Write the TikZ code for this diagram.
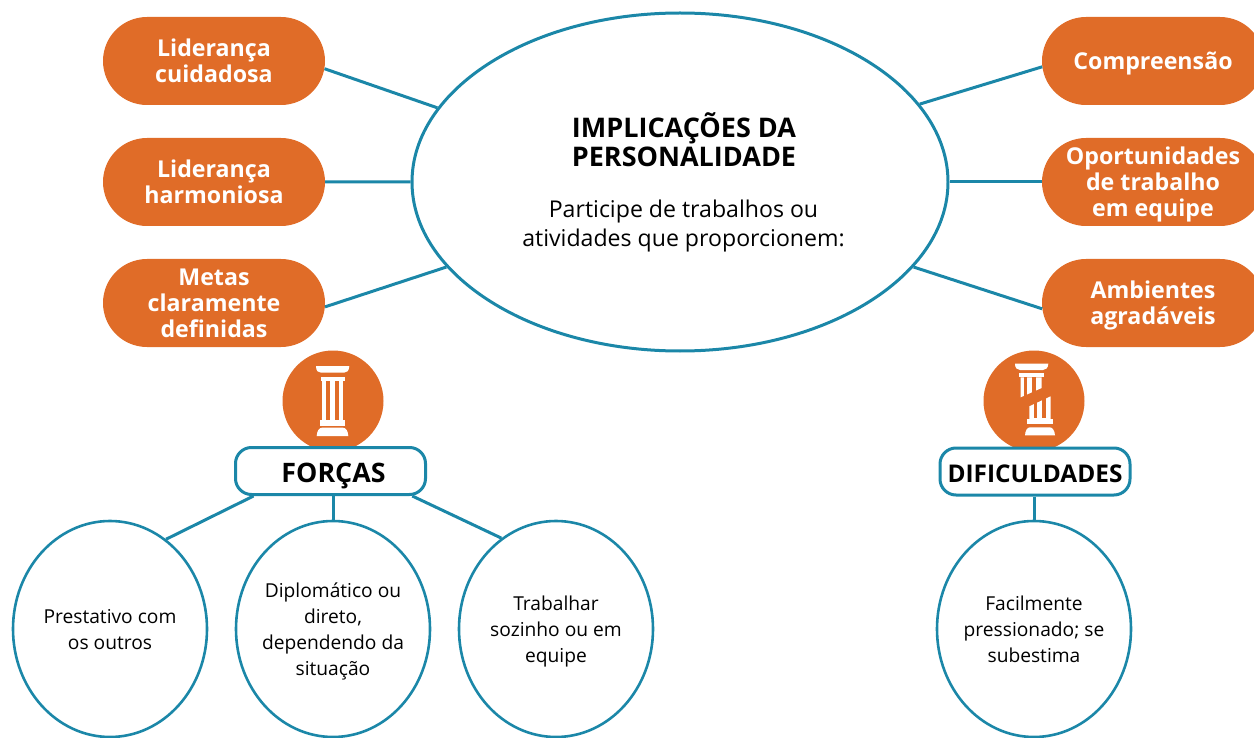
\documentclass[tikz,border=0pt]{standalone}
\usepackage{fontspec}
\setmainfont{Open Sans}
\usetikzlibrary{positioning, shapes.geometric, shapes.misc}
\definecolor{laranja}{HTML}{E06C28}
\definecolor{azul}{HTML}{1B87A8}

\begin{document}
\begin{tikzpicture}[x=1pt, y=-1pt, node distance=121pt, on grid,
    pill/.style={rounded rectangle, fill=laranja, text=white, minimum width=220pt, minimum height=88pt,
      inner ysep=0pt, inner xsep=-1pt, text depth=-2pt, align=center, font=\fontsize{23.2}{26}\selectfont\bfseries},
    tag/.style={rectangle, rounded corners=16pt, draw=azul, line width=3pt, fill=white, minimum width=190pt,
      minimum height=47pt, inner sep=0pt, text height=21pt, text depth=0pt, font=\fontsize{24.4}{28}\selectfont\bfseries},
    oval/.style={ellipse, draw=azul, line width=2.6pt, minimum width=194pt, minimum height=216pt,
      inner ysep=0pt, inner xsep=-6pt, text depth=0pt, align=center, font=\fontsize{19.2}{26}\selectfont},
    disc/.style={circle, fill=laranja, minimum size=101pt, inner sep=0pt},
    link/.style={draw=azul, line width=3pt}]
    \useasboundingbox (0,0) rectangle (1254,738);

    \node[ellipse, draw=azul, line width=3pt, minimum width=536pt, minimum height=338pt, inner sep=0pt] (impl) at (680,182) {};
    \node[align=center, font=\fontsize{27}{29}\selectfont\bfseries] (titulo) at (684,140) {IMPLICAÇÕES DA\\PERSONALIDADE};
    \node[align=center, font=\fontsize{23.1}{29}\selectfont] (texto) at (683.5,226) {Participe de trabalhos ou\\atividades que proporcionem:};

    \node[pill] (lc) at (214,61) {Liderança\\cuidadosa};
    \node[pill] (lh) [below=of lc] {Liderança\\harmoniosa};
    \node[pill] (mc) [below=of lh] {Metas\\claramente\\definidas};
    \node[pill] (co) at (1153,61) {Compreensão};
    \node[pill] (ot) [below=of co] {Oportunidades\\de trabalho\\em equipe};
    \node[pill] (am) [below=of ot] {Ambientes\\agradáveis};

    \node[disc] (df) at (333,401) {};
    \node[disc] (dd) at (1034,401) {};
    \node[tag, text height=23pt, font=\fontsize{26.8}{28}\selectfont\bfseries,
      execute at begin node={\hspace*{6pt}}] (forcas) at (330.5,471) {FORÇAS};
    \node[tag] (dific) at (1035,471.5) {DIFICULDADES};

    \node[oval] (o1) at (110,629) {Prestativo com\\os outros};
    \node[oval] (o2) at (333,629) {Diplomático ou\\direto,\\dependendo da\\situação};
    \node[oval] (o3) at (556,629) {Trabalhar\\sozinho ou em\\equipe};
    \node[oval] (o4) at (1034,629) {Facilmente\\pressionado; se\\subestima};

    \path[link]
      (lc.-4) edge (impl.163.4)
      (lh) edge (impl.west)
      (mc.-2) edge (impl.200.5)
      (co.183) edge (impl.18)
      (ot) edge (impl.east)
      (am.183) edge (impl.-20.8)
      (forcas.-162.8) edge (o1.58.6)
      (o2.north) edge (o2.north |- forcas.south)
      (forcas.-17.5) edge (o3.121.4)
      (o4.north |- dific.south) edge (o4.north);

    % coluna inteira
    \begin{scope}[shift={(df.center)}, white]
      \fill (-17,-35) -- (16.3,-35) .. controls (16,-30) and (14,-28.3) .. (11,-28.3) -- (-12,-28.3) .. controls (-15,-28.3) and (-17,-30) .. cycle;
      \fill (-12.3,-24) rectangle (12,-20);
      \fill (-11.3,-20) rectangle (10.3,19);
      \fill (-13,19) rectangle (12,25);
      \fill (-16.3,35) -- (15.3,35) .. controls (15,30) and (13,26.7) .. (10,26.7) -- (-11,26.7) .. controls (-14,26.7) and (-16,30) .. cycle;
      \fill[laranja] (-7,-20) rectangle (-3,19);
      \fill[laranja] (2,-20) rectangle (6.3,19);
    \end{scope}
    % coluna quebrada
    \begin{scope}[shift={(dd.center)}, white]
      \fill (-19,-37.3) -- (14.3,-37.3) .. controls (14,-33) and (12,-31) .. (9,-31) -- (-14,-31) .. controls (-17,-31) and (-19,-33) .. cycle;
      \fill (-15,-28) rectangle (10,-23.7);
      \fill (-13.3,-23.7) -- (7.7,-23.7) -- (7.7,-13) -- (-13.3,-3.7) -- cycle;
      \fill (-4.7,5.3) -- (16.7,-4.7) -- (16.7,18) -- (-4.7,18) -- cycle;
      \fill (-6.7,17.7) rectangle (18.7,23);
      \fill (-9,34.3) -- (21,34.3) .. controls (20.7,30) and (18.7,26.3) .. (15.7,26.3) -- (-4,26.3) .. controls (-7,26.3) and (-8.7,30) .. cycle;
      \fill[laranja] (-10,-23.7) rectangle (-6.7,-2);
      \fill[laranja] (-2.3,-23.7) rectangle (1.7,-2);
      \fill[laranja] (0,-6) rectangle (3.3,17);
      \fill[laranja] (7.7,-6) rectangle (11.7,17);
    \end{scope}
\end{tikzpicture}
\end{document}
